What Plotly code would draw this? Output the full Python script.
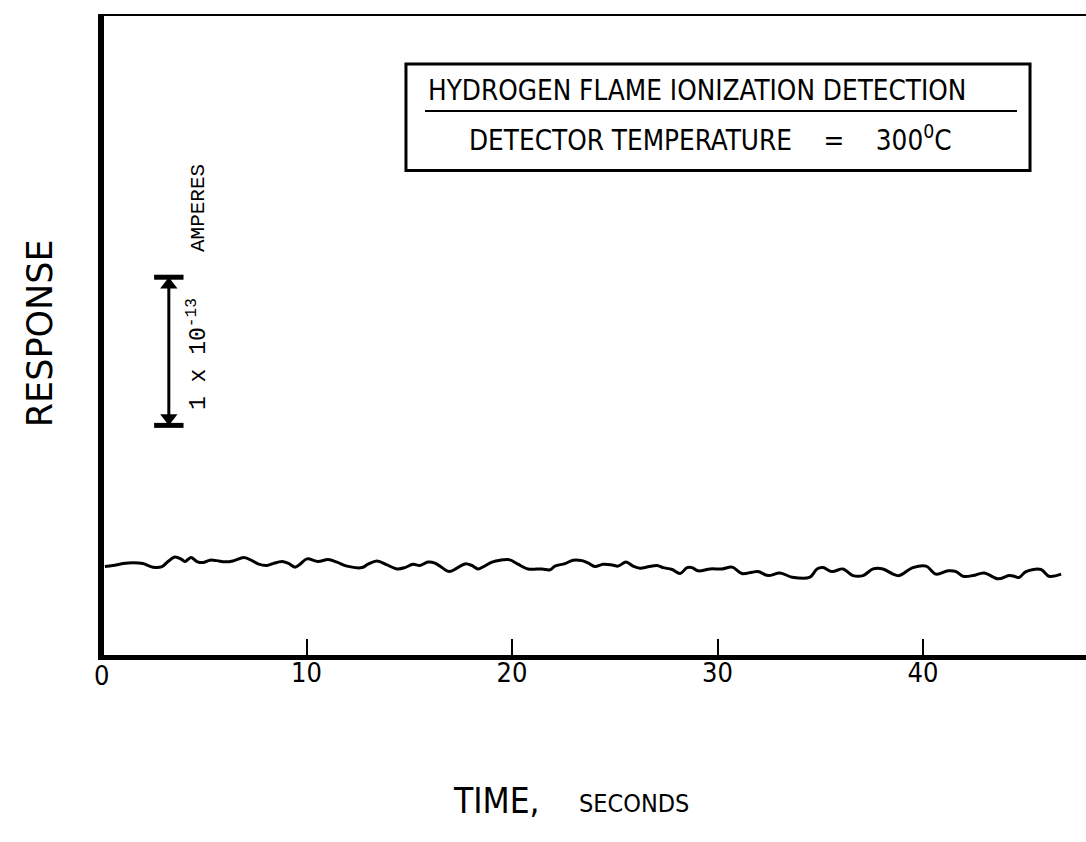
import plotly.graph_objects as go

# Detector baseline trace: time (s) and response (units of 1e-14 A)
time_s = [0.19, 0.58, 1.07, 1.56, 2.04, 2.53, 2.97, 3.26, 3.60, 3.94, 4.09, 4.38, 4.67, 4.96,
          5.30, 5.64, 6.03, 6.42, 6.96, 7.35, 7.64, 8.08, 8.37, 8.81, 9.10, 9.44, 9.68, 10.02,
          10.56, 11.05, 11.48, 11.97, 12.70, 12.99, 13.43, 13.92, 14.40, 14.79, 15.18, 15.52,
          15.91, 16.25, 16.59, 16.93, 17.32, 17.71, 18.05, 18.35, 18.59, 19.03, 19.42, 19.90,
          20.29, 20.78, 21.46, 21.85, 22.09, 22.58, 22.97, 23.41, 23.70, 24.04, 24.43, 24.87,
          25.16, 25.55, 25.89, 26.23, 26.62, 27.06, 27.35, 27.79, 28.18, 28.52, 28.76, 29.05,
          29.64, 30.22, 30.71, 31.19, 31.68, 31.97, 32.46, 33.04, 33.63, 34.50, 34.84, 35.13,
          35.57, 36.11, 36.59, 37.08, 37.57, 38.05, 38.54, 38.83, 39.51, 40.15, 40.63, 41.22,
          41.61, 41.95, 42.43, 42.97, 43.65, 44.18, 44.43, 44.67, 45.01, 45.74, 46.13, 46.72]
response = [6.17, 6.24, 6.37, 6.42, 6.37, 6.13, 6.17, 6.51, 6.82, 6.64, 6.51, 6.78, 6.51, 6.44,
            6.60, 6.57, 6.49, 6.55, 6.78, 6.57, 6.35, 6.24, 6.37, 6.51, 6.40, 6.13, 6.32, 6.69,
            6.51, 6.64, 6.47, 6.20, 6.10, 6.33, 6.55, 6.28, 6.01, 6.10, 6.33, 6.24,
            6.47, 6.40, 6.10, 5.83, 6.06, 6.35, 6.24, 6.01, 6.15, 6.47, 6.60, 6.62,
            6.33, 6.01, 6.01, 5.95, 6.20, 6.37, 6.60, 6.57, 6.42, 6.17, 6.33, 6.28,
            6.20, 6.47, 6.20, 6.06, 6.15, 6.24, 6.10, 5.97, 5.70, 6.10, 6.10, 5.88,
            6.01, 6.01, 6.13, 5.70, 5.79, 5.83, 5.56, 5.74, 5.45, 5.45, 6.01, 6.10,
            5.83, 6.01, 5.56, 5.56, 6.01, 6.01, 5.66, 5.56, 6.10, 6.20, 5.66, 5.88,
            5.83, 5.52, 5.56, 5.74, 5.34, 5.56, 5.52, 5.43, 5.83, 5.97, 5.52, 5.66]

# Axis set-up
x_range = [0.146, 47.93]
y_range = [0.2, 43.4]
x_ticks = [10, 20, 30, 40]
x_tick_labels = ["10", "20", "30", "40"]

# Calibration bar: 1 x 10^-13 A = 10 units
cal_x = 3.3
cal_bottom = 15.7
cal_top = 25.7

ink = "#000000"
cond = "DejaVu Sans Condensed, DejaVu Sans, sans-serif"
mono = "Liberation Mono, DejaVu Sans Mono, monospace"
nb = "\u00a0"

fig = go.Figure()

fig.add_trace(go.Scatter(
    x=time_s, y=response, mode="lines",
    line=dict(color=ink, width=3, shape="spline", smoothing=1.0),
    hoverinfo="skip", showlegend=False,
))

# calibration bar with arrowheads and end caps
fig.add_trace(go.Scatter(
    x=[cal_x, cal_x], y=[cal_bottom, cal_top], mode="lines",
    line=dict(color=ink, width=3), hoverinfo="skip", showlegend=False,
))
fig.add_trace(go.Scatter(
    x=[cal_x, cal_x], y=[cal_top, cal_bottom], mode="markers",
    marker=dict(symbol="line-ew", size=21, line=dict(color=ink, width=5)),
    hoverinfo="skip", showlegend=False,
))
fig.add_trace(go.Scatter(
    x=[cal_x, cal_x], y=[cal_top - 0.5, cal_bottom + 0.5], mode="markers",
    marker=dict(symbol=["triangle-up", "triangle-down"], size=15, color=ink),
    hoverinfo="skip", showlegend=False,
))

fig.update_layout(
    width=1086, height=842,
    margin=dict(l=104, r=0, t=15, b=187, pad=0),
    paper_bgcolor="white", plot_bgcolor="white",
    font=dict(family=cond, color=ink),
    xaxis=dict(
        range=x_range, showgrid=False, zeroline=False,
        showline=True, linecolor=ink, linewidth=5,
        tickmode="array", tickvals=x_ticks, ticktext=x_tick_labels,
        ticks="inside", ticklen=16, tickwidth=2, tickcolor=ink,
        ticklabelstandoff=-10,
        tickfont=dict(family=cond, size=27, color=ink),
    ),
    yaxis=dict(
        range=y_range, showgrid=False, zeroline=False,
        showline=True, linecolor=ink, linewidth=6,
        showticklabels=False, ticks="",
    ),
)

# top frame edge
fig.add_shape(type="line", xref="paper", yref="paper", x0=-0.006, x1=1, y0=1, y1=1,
              line=dict(color=ink, width=2))

# "0" origin label
fig.add_annotation(x=-0.003, y=-0.004, xref="paper", yref="paper", text="0", showarrow=False,
                   xanchor="center", yanchor="top",
                   font=dict(family=cond, size=27, color=ink))

# title box
fig.add_shape(type="rect", xref="paper", yref="paper",
              x0=0.3075, x1=0.9430, y0=0.757, y1=0.9234,
              line=dict(color=ink, width=3), fillcolor="white")
fig.add_shape(type="line", xref="paper", yref="paper",
              x0=0.3269, x1=0.9297, y0=0.850, y1=0.850,
              line=dict(color=ink, width=2))
fig.add_annotation(x=0.604, y=0.882, xref="paper", yref="paper",
                   text="HYDROGEN FLAME IONIZATION DETECTION", showarrow=False,
                   xanchor="center", yanchor="middle",
                   font=dict(family=cond, size=27.6, color=ink))
fig.add_annotation(x=0.6176, y=0.807, xref="paper", yref="paper",
                   text="DETECTOR TEMPERATURE" + nb * 4 + "=" + nb * 4 + "300<sup>0</sup>C",
                   showarrow=False, xanchor="center", yanchor="middle",
                   font=dict(family=cond, size=27.6, color=ink))

# calibration label
fig.add_annotation(x=0.0955, y=0.470, xref="paper", yref="paper",
                   text="1 x 10<sup>-13</sup>",
                   showarrow=False, textangle=-90, xanchor="center", yanchor="middle",
                   font=dict(family=mono, size=23, color=ink))
fig.add_annotation(x=0.0965, y=0.698, xref="paper", yref="paper",
                   text="AMPERES",
                   showarrow=False, textangle=-90, xanchor="center", yanchor="middle",
                   font=dict(family=mono, size=21, color=ink))

# axis titles
fig.add_annotation(x=-0.065, y=0.503, xref="paper", yref="paper", text="RESPONSE",
                   showarrow=False, textangle=-90, xanchor="center", yanchor="middle",
                   font=dict(family="DejaVu Sans, sans-serif", size=35, color=ink))
fig.add_annotation(x=0.4, y=-0.228, xref="paper", yref="paper", text="TIME,",
                   showarrow=False, xanchor="center", yanchor="middle",
                   font=dict(family=cond, size=35, color=ink))
fig.add_annotation(x=0.54, y=-0.232, xref="paper", yref="paper", text="SECONDS",
                   showarrow=False, xanchor="center", yanchor="middle",
                   font=dict(family=cond, size=25, color=ink))

fig.write_html("out.html")
